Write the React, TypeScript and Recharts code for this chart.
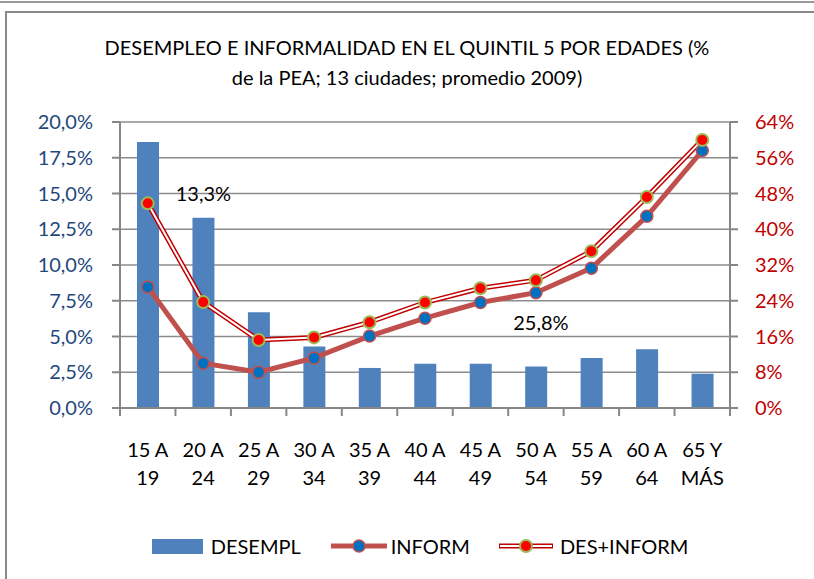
import React from 'react';
import {
  ComposedChart, Bar, Line, XAxis, YAxis, CartesianGrid, Legend, LabelList
} from 'recharts';

const ageGroups = ['15 A 19', '20 A 24', '25 A 29', '30 A 34', '35 A 39', '40 A 44', '45 A 49', '50 A 54', '55 A 59', '60 A 64', '65 Y MÁS'];
const desempl = [18.6, 13.3, 6.7, 4.3, 2.8, 3.1, 3.1, 2.9, 3.5, 4.1, 2.4];
const inform = [27.1, 10.0, 8.0, 11.2, 16.1, 20.1, 23.6, 25.8, 31.3, 42.9, 57.6];
const desInform = [45.8, 23.7, 15.2, 15.8, 19.2, 23.6, 26.8, 28.6, 35.1, 47.2, 60.0];

const leftTicks = [0, 2.5, 5, 7.5, 10, 12.5, 15, 17.5, 20];
const rightTicks = [0, 8, 16, 24, 32, 40, 48, 56, 64];

// which points carry a data label in the original
const barLabelIndex = 1;
const informLabelIndex = 7;

const data = ageGroups.map((name, i) => ({
  name,
  desempl: desempl[i],
  inform: inform[i],
  desInform: desInform[i],
}));

const FONT = 'Lato, "Open Sans", sans-serif';
const AXIS_GRAY = '#868686';
const comma = (v: number, digits: number) => v.toFixed(digits).replace('.', ',');

// two-line category label + tick marks on the category boundaries
const AgeTick = (props: any) => {
  const { x, y, payload, index, width } = props;
  const half = (width || 610) / ageGroups.length / 2;
  const label = String(payload.value);
  const cut = label.lastIndexOf(' ');
  return (
    <g>
      <line x1={x - half} x2={x - half} y1={y} y2={y + 8} stroke={AXIS_GRAY} strokeWidth={2} />
      {index === ageGroups.length - 1 && (
        <line x1={x + half} x2={x + half} y1={y} y2={y + 8} stroke={AXIS_GRAY} strokeWidth={2} />
      )}
      <text x={x} y={y} textAnchor="middle" fill="#000" fontSize={20} fontFamily={FONT}>
        <tspan x={x} dy={49}>{label.slice(0, cut)}</tspan>
        <tspan x={x} dy={28}>{label.slice(cut + 1)}</tspan>
      </text>
    </g>
  );
};

const BarValueLabel = (props: any) => {
  const { x, y, width, value, index } = props;
  if (index !== barLabelIndex) return null;
  return (
    <text x={x + width / 2} y={y - 25} textAnchor="middle" dominantBaseline="central"
      fontSize={20} fontFamily={FONT} fill="#000">
      {comma(value, 1)}%
    </text>
  );
};

const InformValueLabel = (props: any) => {
  const { x, y, value, index } = props;
  if (index !== informLabelIndex) return null;
  return (
    <text x={x + 5} y={y + 29} textAnchor="middle" dominantBaseline="central"
      fontSize={20} fontFamily={FONT} fill="#000">
      {comma(value, 1)}%
    </text>
  );
};

const LegendBox = () => (
  <div style={{
    height: 40, display: 'flex', alignItems: 'center', justifyContent: 'center',
    fontFamily: FONT, fontSize: 20, color: '#000', paddingLeft: 26,
  }}>
    <div style={{ display: 'flex', alignItems: 'center', marginRight: 30 }}>
      <div style={{ width: 51, height: 15, background: '#4F81BD', marginRight: 8 }} />
      <span>DESEMPL</span>
    </div>
    <div style={{ display: 'flex', alignItems: 'center', marginRight: 29 }}>
      <svg width={56} height={20} style={{ marginRight: 4 }}>
        <line x1={0} x2={56} y1={10} y2={10} stroke="#C0504D" strokeWidth={5} />
        <circle cx={28} cy={10} r={6} fill="#0070C0" stroke="#C0504D" strokeWidth={1.5} />
      </svg>
      <span>INFORM</span>
    </div>
    <div style={{ display: 'flex', alignItems: 'center' }}>
      <svg width={54} height={20} style={{ marginRight: 7 }}>
        <line x1={0} x2={54} y1={10} y2={10} stroke="#C00000" strokeWidth={5} />
        <line x1={1} x2={53} y1={10} y2={10} stroke="#fff" strokeWidth={2} />
        <circle cx={27} cy={10} r={6} fill="#FF0000" stroke="#9BBB59" strokeWidth={2} />
      </svg>
      <span>DES+INFORM</span>
    </div>
  </div>
);

export default function App() {
  return (
    <div style={{ position: 'absolute', left: 0, top: 0, width: 814, height: 579, background: '#fff', overflow: 'hidden' }}>
      <div style={{ position: 'absolute', left: 0, top: 1, width: 814, height: 2, background: '#9a9a9a' }} />
      <div style={{ position: 'absolute', left: 5, top: 11, width: 809, height: 568, borderTop: '2px solid #8a8a8a', borderLeft: '2px solid #8a8a8a', boxSizing: 'border-box' }} />
      <div style={{
        position: 'absolute', left: 0, top: 32, width: 814, textAlign: 'center',
        fontFamily: FONT, fontSize: 20, lineHeight: '30px', color: '#000', pointerEvents: 'none',
      }}>
        DESEMPLEO E INFORMALIDAD EN EL QUINTIL 5 POR EDADES (%<br />
        de la PEA; 13 ciudades; promedio 2009)
      </div>
      <div style={{ position: 'absolute', left: 0, top: 0 }}>
        <ComposedChart width={814} height={579} data={data}
          margin={{ top: 122, right: 0, left: 0, bottom: 13 }}>
          <CartesianGrid yAxisId="left" vertical={false} stroke="#8c8c8c" strokeWidth={1.5} />
          <XAxis dataKey="name" yAxisId="left" height={118} tickSize={0} tickMargin={0} interval={0}
            axisLine={{ stroke: AXIS_GRAY, strokeWidth: 2 }} tickLine={false} tick={<AgeTick />} />
          <YAxis yAxisId="left" orientation="left" width={120} domain={[0, 20]} ticks={leftTicks}
            tickFormatter={(v: number) => `${comma(v, 1)}%`} tickSize={8} tickMargin={19}
            axisLine={{ stroke: AXIS_GRAY, strokeWidth: 2 }} tickLine={{ stroke: AXIS_GRAY, strokeWidth: 2 }}
            tick={{ fill: '#1F497D', fontSize: 20, fontFamily: FONT }} />
          <YAxis yAxisId="right" orientation="right" width={84} domain={[0, 64]} ticks={rightTicks}
            tickFormatter={(v: number) => `${v}%`} tickSize={8} tickMargin={17}
            axisLine={{ stroke: AXIS_GRAY, strokeWidth: 2 }} tickLine={{ stroke: AXIS_GRAY, strokeWidth: 2 }}
            tick={{ fill: '#C00000', fontSize: 20, fontFamily: FONT }} />
          <Legend verticalAlign="bottom" content={<LegendBox />} />
          <Bar yAxisId="left" dataKey="desempl" name="DESEMPL" fill="#4F81BD" barSize={22} isAnimationActive={false}>
            <LabelList dataKey="desempl" content={<BarValueLabel />} />
          </Bar>
          <Line yAxisId="right" dataKey="inform" name="INFORM" type="linear" stroke="#C0504D" strokeWidth={5}
            dot={{ r: 6, fill: '#0070C0', stroke: '#C0504D', strokeWidth: 1.5 }} activeDot={false} isAnimationActive={false}>
            <LabelList dataKey="inform" content={<InformValueLabel />} />
          </Line>
          {/* double line: thick dark red underneath, thin white on top */}
          <Line yAxisId="right" dataKey="desInform" name="DES+INFORM outline" type="linear" stroke="#C00000" strokeWidth={5}
            dot={false} activeDot={false} legendType="none" isAnimationActive={false} />
          <Line yAxisId="right" dataKey="desInform" name="DES+INFORM" type="linear" stroke="#fff" strokeWidth={2}
            dot={{ r: 6, fill: '#FF0000', stroke: '#9BBB59', strokeWidth: 2 }} activeDot={false} isAnimationActive={false} />
        </ComposedChart>
      </div>
    </div>
  );
}
